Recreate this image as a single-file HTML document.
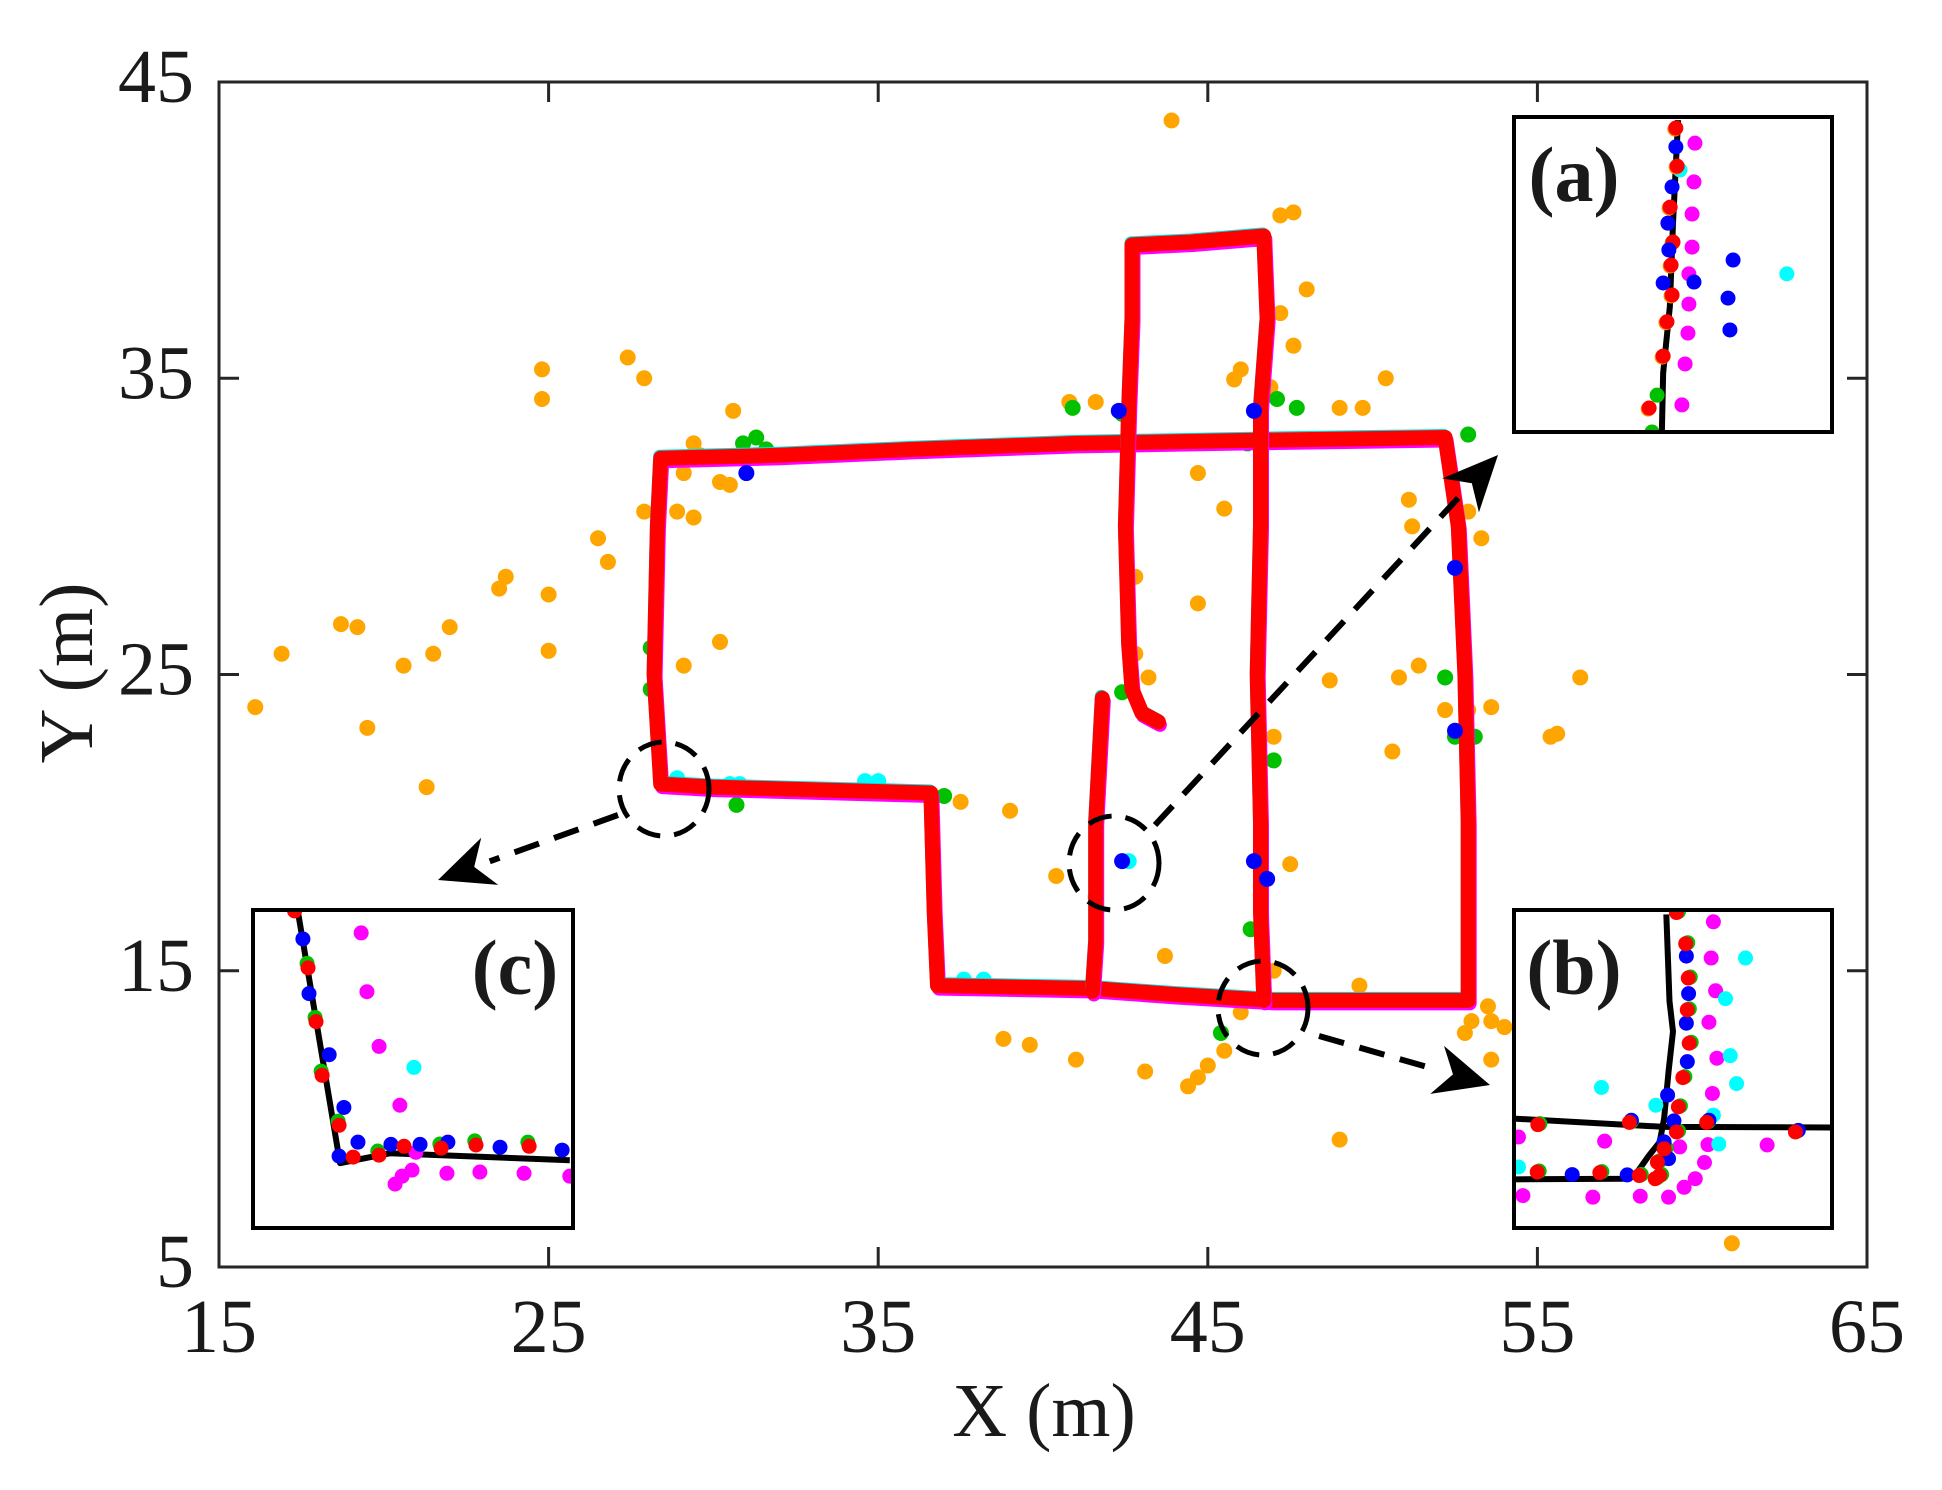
<!DOCTYPE html>
<html><head><meta charset="utf-8"><style>
html,body{margin:0;padding:0;background:#fff;}
svg{display:block;}
text{font-family:"Liberation Serif",serif;fill:#1a1a1a;}
</style></head><body>
<svg id="chart" width="1942" height="1490" viewBox="0 0 1942 1490" xmlns="http://www.w3.org/2000/svg">
<rect width="1942" height="1490" fill="#fff"/>
<g id="plot"></g>
<g id="axes"></g>
<g id="annot"></g>
<g id="insets"></g>
</svg>
<script>
// ---- data ----
const xTicks=[15,25,35,45,55,65];
const yTicks=[5,15,25,35,45];
const loopPath=[[28.4,32.3],[32,32.4],[36,32.6],[41,32.8],[46,32.9],[52.2,33.0],[52.6,30],[52.8,25],[52.9,20],[52.9,14.0],[47,14.0],[44,14.2],[41.5,14.4],[36.8,14.5],[36.7,17],[36.6,21.0],[30,21.2],[28.4,21.3],[28.2,25],[28.3,30],[28.4,32.3]];
const innerPath=[[43.5,23.4],[43.0,23.7],[42.7,24.5],[42.6,26],[42.5,30],[42.6,34],[42.7,37],[42.7,39.5],[44.5,39.6],[46.7,39.8],[46.8,37],[46.6,34],[46.6,30],[46.5,25],[46.6,20],[46.6,17],[46.7,14.0]];
const stubPath=[[41.8,24.2],[41.6,20],[41.6,16],[41.5,14.3]];
const orangeX=[43.9,47.2,47.6,48.0,47.2,47.6,46.0,45.8,46.9,50.4,49.0,49.7,40.8,41.6,24.8,24.8,27.4,27.9,30.6,29.4,29.6,29.1,28.9,29.4,30.5,30.2,31.3,27.9,26.5,26.8,23.7,23.5,25.0,25.0,22.0,18.7,19.2,16.9,20.6,21.5,16.1,19.5,21.3,29.1,30.2,42.8,44.7,45.5,44.7,43.2,42.8,48.7,51.2,51.1,52.9,53.3,50.8,51.4,52.2,52.9,53.6,50.6,55.4,55.6,56.3,47.0,39.0,37.5,40.4,47.5,47.0,43.7,38.8,39.6,41.0,43.1,44.4,44.7,45.0,45.5,46.0,52.8,53.0,53.5,53.6,54.0,53.6,49.0,49.6,60.9];
const orangeY=[43.7,40.5,40.6,38.0,37.2,36.1,35.3,34.96,34.7,35.0,34.0,34.0,34.2,34.2,35.3,34.3,35.7,35.0,33.9,32.8,32.4,31.8,30.5,30.3,31.4,31.5,32.4,30.5,29.6,28.8,28.3,27.9,27.7,25.8,26.6,26.7,26.6,25.7,25.3,25.7,23.9,23.2,21.2,25.3,26.1,28.3,31.8,30.6,27.4,24.9,25.7,24.8,30.0,30.9,30.5,29.6,24.9,25.3,23.8,23.8,23.9,22.4,22.9,23.0,24.9,22.9,20.4,20.7,18.2,18.6,15.0,15.5,12.7,12.5,12.0,11.6,11.1,11.4,11.8,12.3,13.6,12.9,13.3,13.8,13.3,13.1,12.0,9.3,14.5,5.8];
const greenX=[31.3,30.9,31.6,28.1,28.1,52.2,52.5,53.1,30.7,37.0,40.9,42.4,47.7,47.1,46.2,46.3,45.4,41.6,42.4,47.0,52.9];
const greenY=[33.0,32.8,32.6,25.9,24.5,24.9,22.9,22.9,20.6,20.9,34.0,33.8,34.0,34.3,32.8,16.4,12.9,17.5,24.4,22.1,33.1];
const blueX=[42.3,31.0,46.4,46.8,42.4,52.5,52.5,46.4];
const blueY=[33.9,31.8,18.7,18.1,18.7,23.1,28.6,33.9];
const cyanX=[42.6,37.6,38.2,28.9,30.5,30.8,34.6,35.0];
const cyanY=[18.7,14.7,14.7,21.5,21.3,21.3,21.4,21.4];

// inset data (local units 0-100)
const insetA_line=[[51.6,1],[50,33.7],[49,60.3],[46.9,81.3],[46.5,100]];
const insetA_red=[[50.9,3.5],[51.3,15.6],[49.1,28.6],[50,39.7],[49.4,47],[49.7,56.5],[48.1,65],[46.9,75.9],[42.5,92.4]];
const insetA_blue=[[50.9,9.5],[49.7,22.2],[48.4,33.7],[48.7,42.2],[46.9,52.7],[56.6,52.4],[68.9,45.4],[67.3,57.5],[67.9,67.6]];
const insetA_mag=[[56.9,8.3],[56.6,20.6],[56,30.8],[56,41.3],[55,49.8],[55,59.4],[54.7,68.6],[53.8,78.4],[52.8,91.4]];
const insetA_cyan=[[85.8,49.8],[52.2,16.8]];
const insetA_green=[[45,88.3],[43.4,100]];
const insetC_line=[[14,0.3],[27.2,79.6],[42.8,76.5],[99,78.7]];
const insetC_red=[[13,0.3],[17.2,18.2],[19.7,35.1],[21.6,52],[26.9,67.7],[31.3,77.7],[39.4,77.1],[47.2,74.3],[58.8,74.9],[69.7,73.9],[86.3,74.3]];
const insetC_blue=[[15.6,9.1],[17.5,26.3],[23.8,45.5],[28.4,62.1],[32.8,73],[26.9,77.4],[43.1,73.7],[52.2,73.7],[60.9,73],[77.2,74.6],[96.6,75.5]];
const insetC_mag=[[33.8,7.2],[35.6,25.7],[39.4,42.9],[45.9,61.4],[50.9,76.2],[49.7,81.8],[46.6,83.7],[44.4,86.2],[60.6,82.8],[70.9,82.4],[84.7,82.8],[99,83.7]];
const insetC_cyan=[[50.3,49.5]];
const insetC_green=[[16.9,16.8],[19.4,33.8],[21.3,50.7],[26.6,66.4],[39,75.8],[58.4,73.6],[69.3,72.6],[85.9,73]];
const insetB_line1=[[0,65.6],[47.2,68.2],[100,68.4]];
const insetB_line2=[[0,84.7],[34.5,84.5],[38,83.5],[42.3,77.4],[45.8,73],[47.2,65.6],[48.6,50.8],[50,38.2],[48.9,28.7],[47.9,1.4]];
const insetB_red=[[51.1,0.8],[54,10.6],[54.8,21.4],[54.5,31.4],[55.1,41.9],[53.1,52.7],[51.7,61.9],[51.1,69.8],[47.2,75.1],[45.1,79.3],[45.8,83.5],[44.4,84.5],[39.4,83.5],[27,82.6],[7.3,82.4],[7.5,67.5],[36.3,66.8],[60.6,66.8],[88.5,69.8]];
const insetB_blue=[[54.2,14.5],[54.9,26.3],[54.2,35.6],[54.5,47.7],[48.3,58.2],[50.3,66.3],[47.2,72.9],[48.6,78.2],[35.6,83.3],[18.3,83.2],[36.9,66.1],[61.3,66.1],[89.4,69.3]];
const insetB_mag=[[62.7,3.7],[62,15.1],[63.4,25.4],[61.3,35.3],[63.8,46.6],[62.4,57.7],[52.1,74.5],[61,73.8],[59.9,79.4],[57,84.5],[53.5,87.2],[48.6,90.3],[79.6,73.9],[28.5,72.7],[1.4,71.4],[2.8,89.8],[24.8,90.3],[39.7,90]];
const insetB_cyan=[[72.8,15.1],[66.5,27.9],[68,45.8],[70,54.6],[27.5,55.8],[44.6,61.4],[62.7,64.5],[64.4,73.6],[1.4,80.8]];

// ---- scales ----
const L=219,R=1867,T=82,B=1267;
const sx=v=>L+(v-15)*(R-L)/50;
const sy=v=>B-(v-5)*(B-T)/40;
const NS="http://www.w3.org/2000/svg";
function mk(tag,attrs,parent){const e=document.createElementNS(NS,tag);for(const k in attrs)e.setAttribute(k,attrs[k]);parent.appendChild(e);return e;}
const plot=document.getElementById('plot'),axes=document.getElementById('axes'),annot=document.getElementById('annot'),insets=document.getElementById('insets');

function dots(xs,ys,color,name){
  xs.forEach((x,i)=>{const c=mk('circle',{cx:sx(x),cy:sy(ys[i]),r:8,fill:color},plot);
  
  });
}
function pathD(pts,dx,dy){return pts.map((p,i)=>(i?'L':'M')+(sx(p[0])+dx).toFixed(1)+','+(sy(p[1])+dy).toFixed(1)).join(' ');}
dots(orangeX,orangeY,'#ffa500','orange-point');
dots(greenX,greenY,'#00c000','green-point');
dots(cyanX,cyanY,'#00ffff','cyan-point');
[[loopPath,'loop'],[innerPath,'inner'],[stubPath,'stub']].forEach(([p,n])=>{
  let e=mk('path',{d:pathD(p,1.5,3),stroke:'#ff00ff',"stroke-width":14,fill:'none',"stroke-linejoin":'round',"stroke-linecap":'round'},plot);
  
  
  e=mk('path',{d:pathD(p,-1,-2),stroke:'#00e0e0',"stroke-width":13,fill:'none',"stroke-linejoin":'round',"stroke-linecap":'round'},plot);
  
  
  e=mk('path',{d:pathD(p,0,0),stroke:'#ff0000',"stroke-width":15,fill:'none',"stroke-linejoin":'round',"stroke-linecap":'round'},plot);
  
  
});
dots(blueX,blueY,'#0000ff','blue-point');

// axes
let fr=mk('rect',{x:L,y:T,width:R-L,height:B-T,fill:'none',stroke:'#262626',"stroke-width":3},axes);


xTicks.forEach(v=>{
  mk('line',{x1:sx(v),x2:sx(v),y1:B,y2:B-20,stroke:'#262626',"stroke-width":3},axes);
  mk('line',{x1:sx(v),x2:sx(v),y1:T,y2:T+20,stroke:'#262626',"stroke-width":3},axes);
  const t=mk('text',{x:sx(v),y:1352,"text-anchor":'middle',"font-size":76},axes);t.textContent=v;
  
  
});
yTicks.forEach(v=>{
  mk('line',{x1:L,x2:L+20,y1:sy(v),y2:sy(v),stroke:'#262626',"stroke-width":3},axes);
  mk('line',{x1:R,x2:R-20,y1:sy(v),y2:sy(v),stroke:'#262626',"stroke-width":3},axes);
  const t=mk('text',{x:194,y:sy(v)+20,"text-anchor":'end',"font-size":76},axes);t.textContent=v;
  
  
});
let xt=mk('text',{x:1044,y:1436,"text-anchor":'middle',"font-size":76},axes);xt.textContent='X (m)';


let yt=mk('text',{x:0,y:0,"text-anchor":'middle',"font-size":76,transform:'translate(92,673) rotate(-90)'},axes);yt.textContent='Y (m)';



// annotations: dashed circles and arrows
const circ=[[664,789],[1114,863],[1263,1008]];
circ.forEach((c,i)=>{const e=mk('ellipse',{cx:c[0],cy:c[1],rx:45,ry:47,fill:'none',stroke:'#000',"stroke-width":5,"stroke-dasharray":'24,14'},annot);
  
  });
function arrow(x1,y1,x2,y2,name){
  const a=Math.atan2(y2-y1,x2-x1),hl=55,hw=25;
  const bx=x2-hl*Math.cos(a),by=y2-hl*Math.sin(a);
  const g=mk('g',{},annot);
  
  
  mk('line',{x1:x1,y1:y1,x2:bx,y2:by,stroke:'#000',"stroke-width":6,"stroke-dasharray":'26,16'},g);
  const nx=-Math.sin(a),ny=Math.cos(a);
  const ix=x2-hl*0.7*Math.cos(a),iy=y2-hl*0.7*Math.sin(a);
  mk('polygon',{points:`${x2},${y2} ${bx+nx*hw},${by+ny*hw} ${ix},${iy} ${bx-nx*hw},${by-ny*hw}`,fill:'#000'},g);
}
arrow(618,815,438,880,'arrow-to-c');
arrow(1155,825,1498,455,'arrow-to-a');
arrow(1319,1036,1490,1085,'arrow-to-b');

// insets
function inset(x,y,w,h,label,lx,lines,sets,name){
  const g=mk('g',{},insets);
  
  
  mk('rect',{x:x,y:y,width:w,height:h,fill:'#fff'},g);
  const cpEl=mk('clipPath',{id:'cp'+name},g);
  mk('rect',{x:x,y:y,width:w,height:h},cpEl);
  const inner=mk('g',{"clip-path":`url(#cp${name})`},g);
  const fx=v=>x+v*w/100,fy=v=>y+v*h/100;
  lines.forEach(l=>{mk('path',{d:l.map((p,i)=>(i?'L':'M')+fx(p[0])+','+fy(p[1])).join(' '),stroke:'#000',"stroke-width":6,fill:'none',"stroke-linejoin":'round'},inner);});
  sets.forEach(([pts,col,dx,dy])=>pts.forEach(p=>{const c=mk('circle',{cx:fx(p[0])+dx,cy:fy(p[1])+dy,r:7.5,fill:col},inner);
    
    }));
  mk('rect',{x:x,y:y,width:w,height:h,fill:'none',stroke:'#000',"stroke-width":4},g);
  const t=mk('text',{x:lx,y:y+84,"font-size":78,"font-weight":'bold',"text-anchor":'middle'},g);t.textContent=label;
  
  
}
inset(1514,117,318,315,'(a)',1574,[insetA_line],[[insetA_green,'#00c000',0,0],[insetA_mag,'#ff00ff',0,0],[insetA_cyan,'#00ffff',0,0],[insetA_red,'#ff8c00',-1,1],[insetA_red,'#ff0000',0,0],[insetA_blue,'#0000ff',0,0]],'inset-a');
inset(1514,910,318,318,'(b)',1574,[insetB_line1,insetB_line2],[[insetB_mag,'#ff00ff',0,0],[insetB_cyan,'#00ffff',0,0],[insetB_red,'#00c000',2,-1],[insetB_blue,'#0000ff',0,0],[insetB_red,'#ff0000',0,0]],'inset-b');
inset(253,910,320,318,'(c)',515,[insetC_line],[[insetC_mag,'#ff00ff',0,0],[insetC_cyan,'#00ffff',0,0],[insetC_green,'#00c000',0,0],[insetC_blue,'#0000ff',0,0],[insetC_red,'#ff0000',0,0]],'inset-c');
</script>
</body></html>
